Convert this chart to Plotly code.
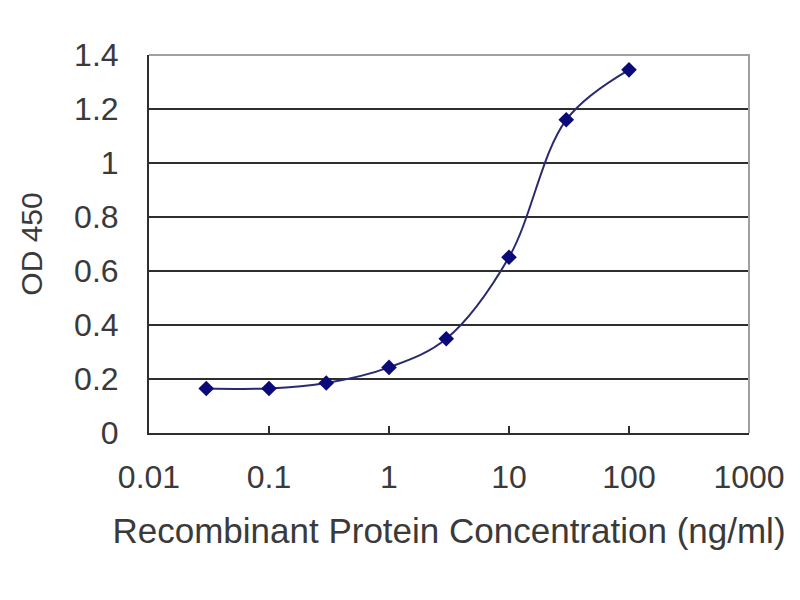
import plotly.graph_objects as go

conc = [0.03, 0.1, 0.3, 1, 3, 10, 30, 100]
od450 = [0.165, 0.165, 0.185, 0.243, 0.349, 0.651, 1.16, 1.345]

x_tickvals = [0.01, 0.1, 1, 10, 100, 1000]
x_ticktext = ["0.01", "0.1", "1", "10", "100", "1000"]
y_tickvals = [0, 0.2, 0.4, 0.6, 0.8, 1.0, 1.2, 1.4]
y_ticktext = ["0", "0.2", "0.4", "0.6", "0.8", "1", "1.2", "1.4"]

FONT = "Liberation Sans, Arial, sans-serif"
TXT = "#3a3a3a"
AX = "#2e2e2e"

fig = go.Figure()
fig.add_trace(go.Scatter(
    x=conc, y=od450, mode="lines+markers",
    line=dict(color="#2a2a72", width=2, shape="spline", smoothing=1.0),
    marker=dict(symbol="diamond", size=12, color="#0a0a78",
                line=dict(width=0)),
    showlegend=False,
))

fig.update_layout(
    width=800, height=600,
    margin=dict(l=141, r=59, t=47, b=175, autoexpand=False),
    paper_bgcolor="white", plot_bgcolor="white",
    font=dict(family=FONT, color=TXT),
    xaxis=dict(
        type="log", range=[-2, 3],
        tickvals=x_tickvals, ticktext=x_ticktext,
        showgrid=False, zeroline=False,
        showline=True, linecolor=AX, linewidth=2,
        ticks="inside", ticklen=7, tickwidth=2, tickcolor=AX,
        tickfont=dict(size=32, family=FONT, color=TXT),
        ticklabelstandoff=15,
        automargin=False,
        title=dict(text="Recombinant Protein Concentration (ng/ml)",
                   font=dict(size=35, family=FONT, color=TXT), standoff=24),
    ),
    yaxis=dict(
        range=[0, 1.4],
        tickvals=y_tickvals, ticktext=y_ticktext,
        showgrid=True, gridcolor=AX, gridwidth=2,
        zeroline=False,
        showline=True, linecolor=AX, linewidth=2,
        ticks="",
        tickfont=dict(size=32, family=FONT, color=TXT),
        ticklabelstandoff=22,
        automargin=False,
        title=dict(text="OD 450", font=dict(size=30, family=FONT, color=TXT),
                   standoff=23),
    ),
    shapes=[
        dict(type="path", xref="paper", yref="paper",
             path="M 0 1 L 1 1 L 1 0", line=dict(color="#a0a0a0", width=2),
             layer="above"),
    ],
)

fig.write_html("out.html")
